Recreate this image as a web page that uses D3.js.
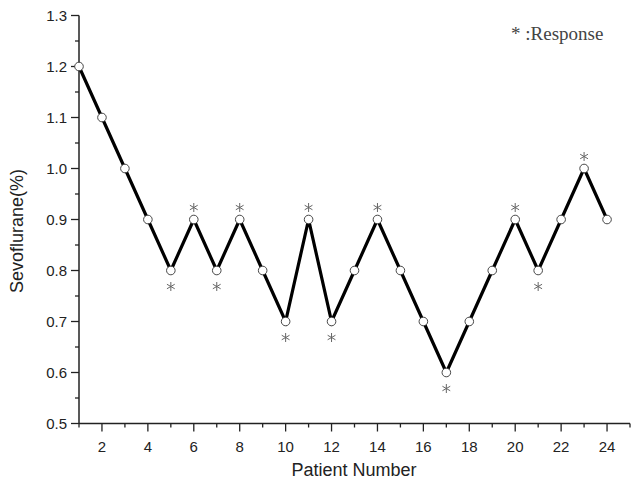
<!DOCTYPE html>
<html><head><meta charset="utf-8">
<script src="https://cdn.jsdelivr.net/npm/d3@7"></script>
<style>body{margin:0;background:#fff}svg{display:block}</style>
</head><body>
<svg id="c" width="639" height="488"></svg>
<script>
const patients = [1,2,3,4,5,6,7,8,9,10,11,12,13,14,15,16,17,18,19,20,21,22,23,24];
const sevoflurane = [1.2,1.1,1.0,0.9,0.8,0.9,0.8,0.9,0.8,0.7,0.9,0.7,0.8,0.9,0.8,0.7,0.6,0.7,0.8,0.9,0.8,0.9,1.0,0.9];
// response markers: "above" or "below" the point, null = none
const response = [null,null,null,null,"below","above","below","above",null,"below","above","below",null,"above",null,null,"below",null,null,"above","below",null,"above",null];
const xTicks = [2,4,6,8,10,12,14,16,18,20,22,24];
const yTicks = [0.5,0.6,0.7,0.8,0.9,1.0,1.1,1.2,1.3];

const svg = d3.select("#c");
const x = d3.scaleLinear().domain([1,25]).range([79,630]);
const y = d3.scaleLinear().domain([0.5,1.3]).range([423.5,15.5]);
const sans = "Liberation Sans, Arial, sans-serif";

// x axis
const xg = svg.append("g").attr("transform",`translate(0,${y(0.5)})`);
xg.append("line").attr("x1",x(1)).attr("x2",x(25)).attr("stroke","#222").attr("stroke-width",1.5);
d3.range(1,26).forEach(v=>{
  const major = v%2===0;
  xg.append("line").attr("x1",x(v)).attr("x2",x(v)).attr("y1",0).attr("y2",major?8:4).attr("stroke","#222").attr("stroke-width",1.3);
});
xTicks.forEach(v=>{
  xg.append("text").attr("x",x(v)).attr("y",28).attr("text-anchor","middle")
    .attr("font-family",sans).attr("font-size",15).attr("fill","#222").text(v);
});

// y axis
const yg = svg.append("g").attr("transform",`translate(${x(1)},0)`);
yg.append("line").attr("y1",y(0.5)).attr("y2",y(1.3)).attr("stroke","#222").attr("stroke-width",1.5);
d3.range(0,17).forEach(i=>{
  const v = 0.5+i*0.05;
  const major = i%2===0;
  yg.append("line").attr("x1",0).attr("x2",major?-8:-4).attr("y1",y(v)).attr("y2",y(v)).attr("stroke","#222").attr("stroke-width",1.3);
});
yTicks.forEach(v=>{
  yg.append("text").attr("x",-12).attr("y",y(v)).attr("dy","0.35em").attr("text-anchor","end")
    .attr("font-family",sans).attr("font-size",15).attr("fill","#222").text(v.toFixed(1));
});

// axis titles
svg.append("text").attr("x",354).attr("y",476).attr("text-anchor","middle")
  .attr("font-family",sans).attr("font-size",18).attr("fill","#222").text("Patient Number");
svg.append("text").attr("transform",`translate(23,231) rotate(-90)`).attr("text-anchor","middle")
  .attr("font-family",sans).attr("font-size",18).attr("fill","#222").text("Sevoflurane(%)");

// line
const data = patients.map((p,i)=>({p,v:sevoflurane[i],r:response[i]}));
svg.append("path").datum(data)
  .attr("d",d3.line().x(d=>x(d.p)).y(d=>y(d.v)))
  .attr("fill","none").attr("stroke","#000").attr("stroke-width",3.2).attr("stroke-linejoin","miter");

svg.selectAll("circle.pt").data(data).join("circle").attr("class","pt")
  .attr("cx",d=>x(d.p)).attr("cy",d=>y(d.v)).attr("r",4.3)
  .attr("fill","#fff").attr("stroke","#333").attr("stroke-width",0.9);

// asterisk glyphs drawn as small strokes
const ast = "M0,-4.5V4.5M-3.9,-2.25L3.9,2.25M-3.9,2.25L3.9,-2.25";
svg.selectAll("path.ast").data(data.filter(d=>d.r)).join("path").attr("class","ast")
  .attr("transform",d=>`translate(${x(d.p)},${y(d.v)+(d.r==="above"?-12:16)})`)
  .attr("d",ast).attr("stroke","#666").attr("stroke-width",1).attr("fill","none");

// legend
svg.append("text").attr("x",511).attr("y",40)
  .attr("font-family","Liberation Serif, DejaVu Serif, serif").attr("font-size",19).attr("fill","#444").text("* :Response");
</script>
</body></html>
